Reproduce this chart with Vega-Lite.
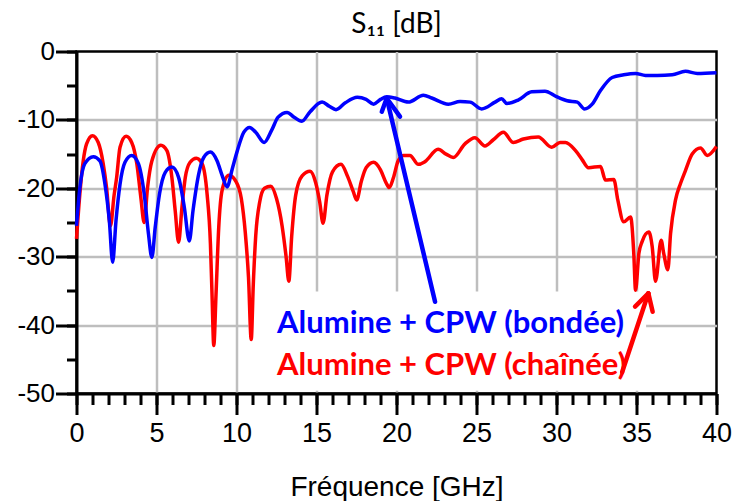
{
  "$schema": "https://vega.github.io/schema/vega-lite/v6.json",
  "autosize": {"type": "none"},
  "width": 640,
  "height": 342,
  "padding": {"left": 76.5, "top": 51.5, "right": 18.5, "bottom": 107.5},
  "background": "white",
  "config": {
    "view": {"stroke": "black", "strokeWidth": 2.5},
    "axis": {"labelColor": "black", "titleColor": "black", "tickColor": "black", "domainColor": "black"}
  },
  "title": {"text": "S₁₁ [dB]", "font": "Lato", "fontSize": 28, "fontWeight": "normal", "color": "black", "anchor": "middle", "frame": "group", "offset": -22, "baseline": "alphabetic"},
  "datasets": {
    "curves": [
      {"serie": "bondée", "f": 0.0, "db": -25.5}, {"serie": "bondée", "f": 0.21, "db": -19.9}, {"serie": "bondée", "f": 0.52, "db": -16.4}, {"serie": "bondée", "f": 1.05, "db": -15.4}, {"serie": "bondée", "f": 1.46, "db": -16.0}, {"serie": "bondée", "f": 1.78, "db": -19.4}, {"serie": "bondée", "f": 2.05, "db": -24.7}, {"serie": "bondée", "f": 2.26, "db": -30.8}, {"serie": "bondée", "f": 2.47, "db": -24.7}, {"serie": "bondée", "f": 2.72, "db": -19.4}, {"serie": "bondée", "f": 3.03, "db": -16.2}, {"serie": "bondée", "f": 3.45, "db": -15.2}, {"serie": "bondée", "f": 3.87, "db": -16.4}, {"serie": "bondée", "f": 4.23, "db": -20.8}, {"serie": "bondée", "f": 4.5, "db": -26.7}, {"serie": "bondée", "f": 4.71, "db": -30.1}, {"serie": "bondée", "f": 4.92, "db": -25.7}, {"serie": "bondée", "f": 5.19, "db": -20.8}, {"serie": "bondée", "f": 5.54, "db": -17.7}, {"serie": "bondée", "f": 5.96, "db": -16.9}, {"serie": "bondée", "f": 6.38, "db": -18.4}, {"serie": "bondée", "f": 6.74, "db": -22.8}, {"serie": "bondée", "f": 7.05, "db": -27.7}, {"serie": "bondée", "f": 7.28, "db": -23.3}, {"serie": "bondée", "f": 7.64, "db": -17.9}, {"serie": "bondée", "f": 7.95, "db": -15.5}, {"serie": "bondée", "f": 8.37, "db": -14.7}, {"serie": "bondée", "f": 8.79, "db": -16.0}, {"serie": "bondée", "f": 9.1, "db": -18.1}, {"serie": "bondée", "f": 9.41, "db": -19.8}, {"serie": "bondée", "f": 9.73, "db": -17.2}, {"serie": "bondée", "f": 10.04, "db": -14.6}, {"serie": "bondée", "f": 10.46, "db": -11.8}, {"serie": "bondée", "f": 10.82, "db": -11.1}, {"serie": "bondée", "f": 11.2, "db": -11.8}, {"serie": "bondée", "f": 11.73, "db": -13.3}, {"serie": "bondée", "f": 12.2, "db": -11.5}, {"serie": "bondée", "f": 12.6, "db": -9.6}, {"serie": "bondée", "f": 13.16, "db": -8.9}, {"serie": "bondée", "f": 13.6, "db": -9.6}, {"serie": "bondée", "f": 14.08, "db": -10.2}, {"serie": "bondée", "f": 14.6, "db": -8.8}, {"serie": "bondée", "f": 15.35, "db": -7.4}, {"serie": "bondée", "f": 15.8, "db": -8.0}, {"serie": "bondée", "f": 16.22, "db": -8.5}, {"serie": "bondée", "f": 16.8, "db": -7.5}, {"serie": "bondée", "f": 17.55, "db": -6.7}, {"serie": "bondée", "f": 18.1, "db": -7.0}, {"serie": "bondée", "f": 18.57, "db": -7.7}, {"serie": "bondée", "f": 19.0, "db": -7.0}, {"serie": "bondée", "f": 19.39, "db": -6.6}, {"serie": "bondée", "f": 19.9, "db": -6.8}, {"serie": "bondée", "f": 20.74, "db": -7.4}, {"serie": "bondée", "f": 21.68, "db": -6.4}, {"serie": "bondée", "f": 22.2, "db": -6.8}, {"serie": "bondée", "f": 23.24, "db": -7.7}, {"serie": "bondée", "f": 23.97, "db": -7.3}, {"serie": "bondée", "f": 24.6, "db": -7.4}, {"serie": "bondée", "f": 25.32, "db": -8.4}, {"serie": "bondée", "f": 26.16, "db": -7.4}, {"serie": "bondée", "f": 26.57, "db": -6.9}, {"serie": "bondée", "f": 26.9, "db": -7.6}, {"serie": "bondée", "f": 27.6, "db": -7.1}, {"serie": "bondée", "f": 28.45, "db": -5.9}, {"serie": "bondée", "f": 29.28, "db": -5.8}, {"serie": "bondée", "f": 30.0, "db": -6.6}, {"serie": "bondée", "f": 30.67, "db": -7.2}, {"serie": "bondée", "f": 31.3, "db": -7.4}, {"serie": "bondée", "f": 31.75, "db": -8.4}, {"serie": "bondée", "f": 32.23, "db": -7.7}, {"serie": "bondée", "f": 32.75, "db": -5.7}, {"serie": "bondée", "f": 33.48, "db": -3.8}, {"serie": "bondée", "f": 34.2, "db": -3.4}, {"serie": "bondée", "f": 34.94, "db": -3.2}, {"serie": "bondée", "f": 35.56, "db": -3.5}, {"serie": "bondée", "f": 36.3, "db": -3.5}, {"serie": "bondée", "f": 37.23, "db": -3.4}, {"serie": "bondée", "f": 38.06, "db": -2.9}, {"serie": "bondée", "f": 38.8, "db": -3.2}, {"serie": "bondée", "f": 40.0, "db": -3.1},
      {"serie": "chaînée", "f": 0.0, "db": -27.4}, {"serie": "chaînée", "f": 0.21, "db": -20.8}, {"serie": "chaînée", "f": 0.42, "db": -16.0}, {"serie": "chaînée", "f": 0.63, "db": -13.5}, {"serie": "chaînée", "f": 1.0, "db": -12.3}, {"serie": "chaînée", "f": 1.36, "db": -13.3}, {"serie": "chaînée", "f": 1.67, "db": -16.4}, {"serie": "chaînée", "f": 1.88, "db": -19.9}, {"serie": "chaînée", "f": 2.12, "db": -25.5}, {"serie": "chaînée", "f": 2.35, "db": -21.0}, {"serie": "chaînée", "f": 2.51, "db": -18.4}, {"serie": "chaînée", "f": 2.72, "db": -14.0}, {"serie": "chaînée", "f": 3.1, "db": -12.4}, {"serie": "chaînée", "f": 3.45, "db": -13.3}, {"serie": "chaînée", "f": 3.77, "db": -16.4}, {"serie": "chaînée", "f": 4.02, "db": -21.3}, {"serie": "chaînée", "f": 4.23, "db": -25.0}, {"serie": "chaînée", "f": 4.44, "db": -19.9}, {"serie": "chaînée", "f": 4.71, "db": -16.0}, {"serie": "chaînée", "f": 5.27, "db": -13.7}, {"serie": "chaînée", "f": 5.65, "db": -14.5}, {"serie": "chaînée", "f": 5.96, "db": -18.4}, {"serie": "chaînée", "f": 6.17, "db": -23.3}, {"serie": "chaînée", "f": 6.38, "db": -27.9}, {"serie": "chaînée", "f": 6.59, "db": -22.8}, {"serie": "chaînée", "f": 6.8, "db": -18.4}, {"serie": "chaînée", "f": 7.1, "db": -16.2}, {"serie": "chaînée", "f": 7.49, "db": -15.6}, {"serie": "chaînée", "f": 7.85, "db": -16.4}, {"serie": "chaînée", "f": 8.16, "db": -20.8}, {"serie": "chaînée", "f": 8.37, "db": -28.1}, {"serie": "chaînée", "f": 8.47, "db": -35.5}, {"serie": "chaînée", "f": 8.58, "db": -43.0}, {"serie": "chaînée", "f": 8.72, "db": -35.5}, {"serie": "chaînée", "f": 8.89, "db": -25.7}, {"serie": "chaînée", "f": 9.1, "db": -20.3}, {"serie": "chaînée", "f": 9.52, "db": -18.1}, {"serie": "chaînée", "f": 9.94, "db": -18.9}, {"serie": "chaînée", "f": 10.3, "db": -21.5}, {"serie": "chaînée", "f": 10.55, "db": -26.5}, {"serie": "chaînée", "f": 10.75, "db": -33.0}, {"serie": "chaînée", "f": 10.92, "db": -42.1}, {"serie": "chaînée", "f": 11.05, "db": -34.0}, {"serie": "chaînée", "f": 11.2, "db": -27.0}, {"serie": "chaînée", "f": 11.45, "db": -22.0}, {"serie": "chaînée", "f": 11.75, "db": -20.0}, {"serie": "chaînée", "f": 12.14, "db": -19.7}, {"serie": "chaînée", "f": 12.5, "db": -21.5}, {"serie": "chaînée", "f": 12.85, "db": -25.5}, {"serie": "chaînée", "f": 13.1, "db": -30.0}, {"serie": "chaînée", "f": 13.27, "db": -33.6}, {"serie": "chaînée", "f": 13.45, "db": -27.0}, {"serie": "chaînée", "f": 13.7, "db": -21.0}, {"serie": "chaînée", "f": 14.1, "db": -18.2}, {"serie": "chaînée", "f": 14.6, "db": -17.5}, {"serie": "chaînée", "f": 14.95, "db": -19.2}, {"serie": "chaînée", "f": 15.2, "db": -22.0}, {"serie": "chaînée", "f": 15.41, "db": -25.1}, {"serie": "chaînée", "f": 15.65, "db": -21.0}, {"serie": "chaînée", "f": 16.0, "db": -17.6}, {"serie": "chaînée", "f": 16.53, "db": -16.5}, {"serie": "chaînée", "f": 16.95, "db": -18.3}, {"serie": "chaînée", "f": 17.3, "db": -20.5}, {"serie": "chaînée", "f": 17.51, "db": -21.7}, {"serie": "chaînée", "f": 17.8, "db": -19.0}, {"serie": "chaînée", "f": 18.1, "db": -17.0}, {"serie": "chaînée", "f": 18.57, "db": -16.2}, {"serie": "chaînée", "f": 19.0, "db": -17.3}, {"serie": "chaînée", "f": 19.35, "db": -19.2}, {"serie": "chaînée", "f": 19.55, "db": -19.9}, {"serie": "chaînée", "f": 19.8, "db": -18.5}, {"serie": "chaînée", "f": 20.1, "db": -16.0}, {"serie": "chaînée", "f": 20.43, "db": -15.2}, {"serie": "chaînée", "f": 20.84, "db": -15.2}, {"serie": "chaînée", "f": 21.36, "db": -16.5}, {"serie": "chaînée", "f": 21.78, "db": -16.1}, {"serie": "chaînée", "f": 22.6, "db": -14.3}, {"serie": "chaînée", "f": 23.1, "db": -15.0}, {"serie": "chaînée", "f": 23.55, "db": -15.5}, {"serie": "chaînée", "f": 24.28, "db": -13.5}, {"serie": "chaînée", "f": 24.9, "db": -12.6}, {"serie": "chaînée", "f": 25.53, "db": -13.8}, {"serie": "chaînée", "f": 26.05, "db": -12.9}, {"serie": "chaînée", "f": 26.68, "db": -11.8}, {"serie": "chaînée", "f": 27.3, "db": -13.3}, {"serie": "chaînée", "f": 27.93, "db": -12.8}, {"serie": "chaînée", "f": 28.86, "db": -12.5}, {"serie": "chaînée", "f": 29.7, "db": -14.0}, {"serie": "chaînée", "f": 30.22, "db": -13.3}, {"serie": "chaînée", "f": 30.56, "db": -13.3}, {"serie": "chaînée", "f": 31.19, "db": -14.5}, {"serie": "chaînée", "f": 31.6, "db": -15.8}, {"serie": "chaînée", "f": 32.0, "db": -17.0}, {"serie": "chaînée", "f": 32.75, "db": -16.8}, {"serie": "chaînée", "f": 33.06, "db": -18.8}, {"serie": "chaînée", "f": 33.58, "db": -18.7}, {"serie": "chaînée", "f": 33.83, "db": -21.7}, {"serie": "chaînée", "f": 34.2, "db": -24.9}, {"serie": "chaînée", "f": 34.63, "db": -24.2}, {"serie": "chaînée", "f": 34.83, "db": -29.5}, {"serie": "chaînée", "f": 34.94, "db": -34.9}, {"serie": "chaînée", "f": 35.15, "db": -29.5}, {"serie": "chaînée", "f": 35.35, "db": -27.8}, {"serie": "chaînée", "f": 35.77, "db": -26.4}, {"serie": "chaînée", "f": 35.98, "db": -28.5}, {"serie": "chaînée", "f": 36.19, "db": -33.6}, {"serie": "chaînée", "f": 36.54, "db": -27.6}, {"serie": "chaînée", "f": 36.7, "db": -29.5}, {"serie": "chaînée", "f": 36.96, "db": -31.9}, {"serie": "chaînée", "f": 37.13, "db": -26.6}, {"serie": "chaînée", "f": 37.44, "db": -21.7}, {"serie": "chaînée", "f": 37.75, "db": -19.3}, {"serie": "chaînée", "f": 38.06, "db": -17.4}, {"serie": "chaînée", "f": 38.48, "db": -15.0}, {"serie": "chaînée", "f": 39.0, "db": -14.1}, {"serie": "chaînée", "f": 39.42, "db": -15.2}, {"serie": "chaînée", "f": 40.0, "db": -13.9}
    ],
    "box": [{"f": 10.75, "f2": 35.6, "db": -35.1, "db2": -49.6}],
    "labels": [
      {"serie": "bondée", "f": 12.53, "db": -41.2, "label": "Alumine + CPW (bondée)"},
      {"serie": "chaînée", "f": 12.53, "db": -47.3, "label": "Alumine + CPW (chaînée)"}
    ],
    "arrows": [
      {"serie": "bondée", "f": 22.41, "db": -36.58, "f2": 19.39, "db2": -6.84},
      {"serie": "bondée", "f": 19.39, "db": -6.84, "f2": 19.08, "db2": -8.8},
      {"serie": "bondée", "f": 19.39, "db": -6.84, "f2": 20.22, "db2": -9.53},
      {"serie": "chaînée", "f": 34.1, "db": -46.9, "f2": 35.74, "db2": -35.35},
      {"serie": "chaînée", "f": 35.74, "db": -35.35, "f2": 34.91, "db2": -37.3},
      {"serie": "chaînée", "f": 35.74, "db": -35.35, "f2": 36.01, "db2": -38.04}
    ]
  },
  "resolve": {"axis": {"x": "independent", "y": "independent"}},
  "layer": [
    {
      "data": {"name": "box"},
      "mark": {"type": "rect", "color": "white", "opacity": 1},
      "encoding": {
        "x": {"field": "f", "type": "quantitative", "scale": {"domain": [0, 40], "nice": false, "zero": false},
          "axis": {"orient": "bottom", "values": [0, 5, 10, 15, 20, 25, 30, 35, 40], "grid": false, "tickSize": 21, "tickWidth": 3, "domain": true, "domainWidth": 3, "labelFont": "Liberation Sans", "labelFontSize": 27, "labelPadding": 27, "labelBaseline": "alphabetic", "labelFlush": false, "labelOverlap": false, "title": "Fréquence [GHz]", "titleFont": "Liberation Sans", "titleFontSize": 28, "titleFontWeight": "normal", "titleY": 101.5, "titleX": 320, "titleBaseline": "alphabetic", "titleAnchor": "middle"}},
        "x2": {"field": "f2"},
        "y": {"field": "db", "type": "quantitative", "scale": {"domain": [-50, 0], "nice": false, "zero": false},
          "axis": {"orient": "left", "values": [-50, -40, -30, -20, -10, 0], "grid": false, "tickSize": 21, "tickWidth": 3, "domain": true, "domainWidth": 3, "labelFont": "Liberation Sans", "labelFontSize": 26, "labelPadding": 1, "labelFlush": false, "labelOverlap": false, "labelExpr": "'' + datum.value", "title": null}},
        "y2": {"field": "db2"}
      }
    },
    {
      "data": {"name": "curves"},
      "transform": [{"filter": "datum.serie == 'chaînée'"}],
      "mark": {"type": "line", "strokeWidth": 3.5, "interpolate": "monotone", "strokeJoin": "round"},
      "encoding": {
        "x": {"field": "f", "type": "quantitative",
          "axis": {"orient": "bottom", "values": [5, 10, 15, 20, 25, 30, 35], "grid": true, "gridColor": "#BEBEBE", "gridWidth": 2.5, "gridOpacity": 1, "ticks": false, "labels": false, "domain": false, "title": null}},
        "y": {"field": "db", "type": "quantitative",
          "axis": {"orient": "left", "values": [-40, -30, -20, -10], "grid": true, "gridColor": "#BEBEBE", "gridWidth": 2.5, "gridOpacity": 1, "ticks": false, "labels": false, "domain": false, "title": null}},
        "color": {"field": "serie", "type": "nominal", "scale": {"domain": ["bondée", "chaînée"], "range": ["#0000FF", "#FF0000"]}, "legend": null}
      }
    },
    {
      "data": {"name": "curves"},
      "transform": [{"filter": "datum.serie == 'bondée'"}],
      "mark": {"type": "line", "strokeWidth": 3.5, "interpolate": "monotone", "strokeJoin": "round"},
      "encoding": {
        "x": {"field": "f", "type": "quantitative",
          "axis": {"orient": "bottom", "values": [0,1,2,3,4,5,6,7,8,9,10,11,12,13,14,15,16,17,18,19,20,21,22,23,24,25,26,27,28,29,30,31,32,33,34,35,36,37,38,39,40], "grid": false, "ticks": true, "tickSize": 11, "tickWidth": 3, "labels": false, "domain": false, "title": null}},
        "y": {"field": "db", "type": "quantitative",
          "axis": {"orient": "left", "values": [-50, -45, -40, -35, -30, -25, -20, -15, -10, -5, 0], "grid": false, "ticks": true, "tickSize": 10, "tickWidth": 3, "labels": false, "domain": false, "title": null}},
        "color": {"field": "serie", "type": "nominal", "scale": {"domain": ["bondée", "chaînée"], "range": ["#0000FF", "#FF0000"]}, "legend": null}
      }
    },
    {
      "data": {"name": "labels"},
      "mark": {"type": "text", "font": "Lato", "fontWeight": "bold", "fontSize": 31, "align": "left", "baseline": "alphabetic"},
      "encoding": {
        "x": {"field": "f", "type": "quantitative", "axis": null},
        "y": {"field": "db", "type": "quantitative", "axis": null},
        "text": {"field": "label"},
        "color": {"field": "serie", "type": "nominal", "scale": {"domain": ["bondée", "chaînée"], "range": ["#0000FF", "#FF0000"]}, "legend": null}
      }
    },
    {
      "data": {"name": "arrows"},
      "mark": {"type": "rule", "strokeWidth": 4.5, "strokeCap": "round"},
      "encoding": {
        "x": {"field": "f", "type": "quantitative", "axis": null},
        "y": {"field": "db", "type": "quantitative", "axis": null},
        "x2": {"field": "f2"},
        "y2": {"field": "db2"},
        "color": {"field": "serie", "type": "nominal", "scale": {"domain": ["bondée", "chaînée"], "range": ["#0000FF", "#FF0000"]}, "legend": null}
      }
    }
  ]
}
